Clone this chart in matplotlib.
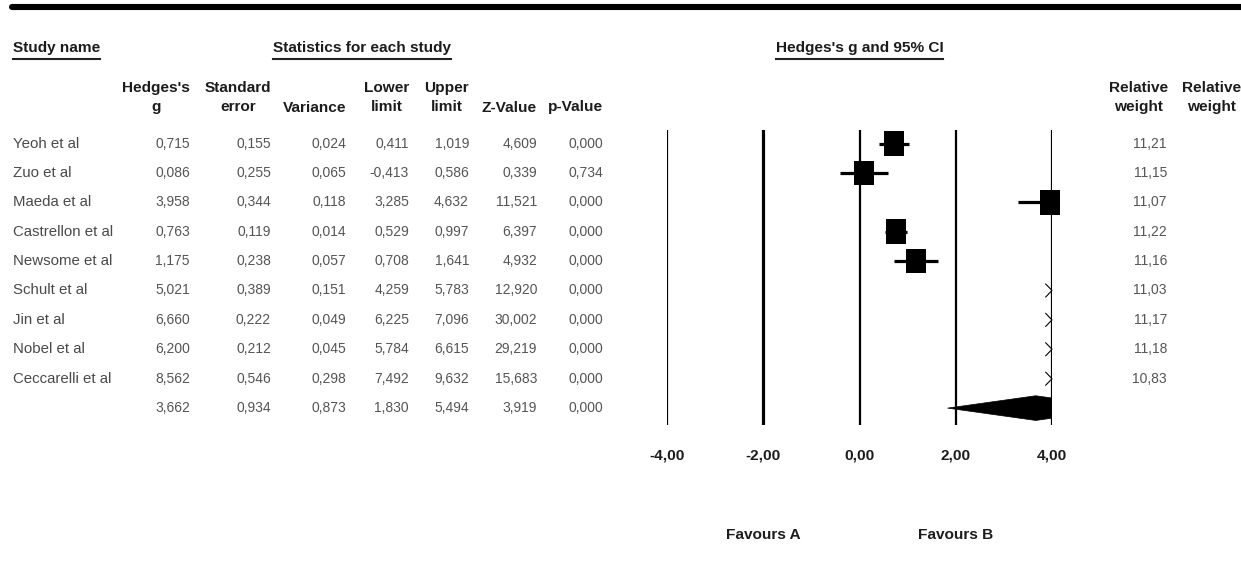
import numpy as np
import matplotlib
matplotlib.use("Agg")
import matplotlib.pyplot as plt
from matplotlib import font_manager as fm
from matplotlib.patches import Rectangle, Polygon
from matplotlib import transforms

# ---------------- data ----------------
studies = ["Yeoh et al", "Zuo et al", "Maeda et al", "Castrellon et al", "Newsome et al",
           "Schult et al", "Jin et al", "Nobel et al", "Ceccarelli et al"]
hedges_g = [0.715, 0.086, 3.958, 0.763, 1.175, 5.021, 6.660, 6.200, 8.562]
std_err = [0.155, 0.255, 0.344, 0.119, 0.238, 0.389, 0.222, 0.212, 0.546]
variance = [0.024, 0.065, 0.118, 0.014, 0.057, 0.151, 0.049, 0.045, 0.298]
lower_limit = [0.411, -0.413, 3.285, 0.529, 0.708, 4.259, 6.225, 5.784, 7.492]
upper_limit = [1.019, 0.586, 4.632, 0.997, 1.641, 5.783, 7.096, 6.615, 9.632]
z_value = [4.609, 0.339, 11.521, 6.397, 4.932, 12.920, 30.002, 29.219, 15.683]
p_value = [0.000, 0.734, 0.000, 0.000, 0.000, 0.000, 0.000, 0.000, 0.000]
rel_weight = [11.21, 11.15, 11.07, 11.22, 11.16, 11.03, 11.17, 11.18, 10.83]

summary_g = 3.662
summary_se = 0.934
summary_var = 0.873
summary_lower = 1.830
summary_upper = 5.494
summary_z = 3.919
summary_p = 0.000

axis_ticks = [-4, -2, 0, 2, 4]
axis_labels = ["-4,00", "-2,00", "0,00", "2,00", "4,00"]
favours_labels = ["Favours A", "Favours B"]
favours_pos = [-2, 2]

col_headers = ["Hedges's\ng", "Standard\nerror", "Variance", "Lower\nlimit", "Upper\nlimit",
               "Z-Value", "p-Value"]

# ---------------- fonts ----------------
def has_font(name):
    try:
        fm.findfont(fm.FontProperties(family=name), fallback_to_default=False)
        return True
    except Exception:
        return False

if has_font("Liberation Sans Narrow"):
    BOLD_FAM = "Liberation Sans Narrow"
    BSCALE = 1.0
else:
    BOLD_FAM = "Liberation Sans"
    BSCALE = 0.85
REG_FAM = "Liberation Sans" if has_font("Liberation Sans") else "DejaVu Sans"

HDR = dict(family=BOLD_FAM, fontweight="bold", fontsize=13 * BSCALE, color="#1c1c1c")
VAL = dict(family=REG_FAM, fontsize=10, color="#555555")
NAME = dict(family=REG_FAM, fontsize=10.8, color="#4a4a4a")

def fmt(v):
    return f"{v:.3f}".replace(".", ",")

# ---------------- figure ----------------
W, H = 1241, 587
fig = plt.figure(figsize=(W / 100, H / 100), dpi=100)
fig.patch.set_facecolor("white")
ax = fig.add_axes([0, 0, 1, 1])
ax.set_xlim(0, W)
ax.set_ylim(H, 0)
ax.axis("off")

# top bar
ax.plot([12, W], [7, 7], color="black", lw=4.4, solid_capstyle="round")

# row layout (pixel rows)
row0, dy = 143.5, 29.4
n = len(studies)
row_y = [row0 + i * dy for i in range(n + 1)]

# title headers
title_y = 48
t1 = ax.text(13, title_y, "Study name", ha="left", va="center", **HDR)
t2 = ax.text(362, title_y, "Statistics for each study", ha="center", va="center", **HDR)

# forest axes
x_left_px, x_right_px = 667, 1052
top_px, bot_px = 130, 425
fa = fig.add_axes([x_left_px / W, (H - bot_px) / H, (x_right_px - x_left_px) / W, (bot_px - top_px) / H])
fa.set_xlim(-4, 4)
fa.set_ylim((bot_px - row0) / dy, (top_px - row0) / dy)
fa.axis("off")

mix = transforms.blended_transform_factory(fa.transData, ax.transData)
t3 = ax.text(0, title_y, "Hedges's g and 95% CI", ha="center", va="center", transform=mix, **HDR)

fig.canvas.draw()
renderer = fig.canvas.get_renderer()
inv = ax.transData.inverted()
for t in (t1, t2, t3):
    bb = t.get_window_extent(renderer)
    (x0, _), (x1, _) = inv.transform([[bb.x0, bb.y0], [bb.x1, bb.y1]])
    ax.plot([x0, x1], [title_y + 11, title_y + 11], color="#222222", lw=1.5)

# column headers
col_right = [190, 271, 346, 409, 469, 537, 603]
for xr, h in zip(col_right, col_headers):
    if "\n" in h:
        ax.text(xr, 97.5, h, ha="right", va="center", multialignment="center",
                linespacing=1.4, **HDR)
    else:
        ax.text(xr, 107.5, h, ha="right", va="center", **HDR)

for xr in (1168, 1241):
    ax.text(xr, 97.5, "Relative\nweight", ha="right", va="center",
            multialignment="center", linespacing=1.4, **HDR)

# table rows
cols = [hedges_g, std_err, variance, lower_limit, upper_limit, z_value, p_value]
for i in range(n):
    y = row_y[i]
    ax.text(13, y, studies[i], ha="left", va="center", **NAME)
    for xr, c in zip(col_right, cols):
        ax.text(xr, y, fmt(c[i]), ha="right", va="center", **VAL)
    ax.text(1167, y, f"{rel_weight[i]:.2f}".replace(".", ","), ha="right", va="center", **VAL)

summ = [summary_g, summary_se, summary_var, summary_lower, summary_upper, summary_z, summary_p]
for xr, v in zip(col_right, summ):
    ax.text(xr, row_y[n], fmt(v), ha="right", va="center", **VAL)

# vertical reference lines
for tk in axis_ticks:
    lw = 2.3 if tk in (-2, 4) else 1.6
    fa.axvline(tk, ymin=0, ymax=1, color="black", lw=lw)

# study markers
lo_lim, hi_lim = fa.get_xlim()
wmax = max(rel_weight)
for i in range(n):
    gi = hedges_g[i]
    lo = np.clip(lower_limit[i], lo_lim, hi_lim)
    hi = np.clip(upper_limit[i], lo_lim, hi_lim)
    if gi <= hi_lim:
        fa.plot([lo, hi], [i, i], color="black", lw=2.3, solid_capstyle="butt", clip_on=False)
        s = np.sqrt(rel_weight[i] / wmax)
        w, h = 0.42 * s, 0.84 * s
        fa.add_patch(Rectangle((gi - w / 2, i - h / 2), w, h, facecolor="black",
                               edgecolor="none", clip_on=False, zorder=3))
    else:
        fa.plot([hi_lim - 0.13, hi_lim, hi_lim - 0.13], [i - 0.22, i, i + 0.22],
                color="black", lw=0.8, clip_on=False)

# summary diamond (clipped at the axis limit)
ys = n
dh = 0.42
diamond = Polygon([[summary_lower, ys], [summary_g, ys - dh], [summary_upper, ys],
                   [summary_g, ys + dh]], closed=True, facecolor="black", edgecolor="black",
                  lw=0.5, zorder=3)
fa.add_patch(diamond)
diamond.set_clip_path(Rectangle((lo_lim, -5), hi_lim - lo_lim, 30, transform=fa.transData))

# axis labels
for tk, lab in zip(axis_ticks, axis_labels):
    ax.text(tk, 456, lab, ha="center", va="center", transform=mix, **HDR)
for xp, lab in zip(favours_pos, favours_labels):
    ax.text(xp, 535, lab, ha="center", va="center", transform=mix, **HDR)

fig.savefig("out.png", dpi=100, facecolor="white")
